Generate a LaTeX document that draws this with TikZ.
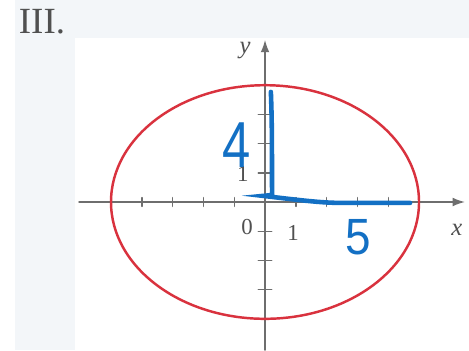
\documentclass[tikz,border=0pt]{standalone}
\usepackage{fontspec}
\setmainfont{Liberation Serif}
\newfontfamily\mano{Liberation Sans}
\usetikzlibrary{arrows.meta,positioning}
\definecolor{rojo}{HTML}{D9323E}
\definecolor{azul}{HTML}{1370C4}
\definecolor{eje}{HTML}{6E6E6E}
\definecolor{texto}{HTML}{505050}
\definecolor{fondo}{HTML}{F3F6F9}
\tikzset{
  etiqueta/.style={texto,font=\fontsize{13}{13}\selectfont,inner sep=0pt},
  marca/.style={eje,line width=0.8pt}
}
\begin{document}
\begin{tikzpicture}[x=0.616cm,y=0.584cm,>=Latex,line cap=round]
    % --- fondo y margenes ---
    \fill[white] (-8.604,-5.068) rectangle (6.623,6.918);
    \fill[fondo] (-8.117,-5.068) rectangle (-6.169,6.918);
    \fill[fondo] (-6.169,5.60) rectangle (6.623,6.918);
    \useasboundingbox (-8.604,-5.068) rectangle (6.623,6.918);
    \node[texto,font=\fontsize{21}{21}\selectfont,inner sep=0pt] (num) at (-7.24,6.16) {III.};
    % --- ejes ---
    \coordinate (O) at (0,0);
    \coordinate (xi) at (-6.04,0);  \coordinate (xf) at (6.49,0);
    \coordinate (yi) at (0,-5.07);  \coordinate (yf) at (0,5.55);
    \draw[eje,line width=0.8pt,-{Latex[length=7pt,width=5pt]}] (xi) -- (xf);
    \draw[eje,line width=0.8pt,-{Latex[length=7pt,width=5pt]}] (yi) -- (yf);
    \foreach \i in {-4,...,-1,1,2,3,4}{
      \draw[marca] (\i,-0.15) -- (\i,0.15);
    }
    \foreach \j in {-3,...,-1,1,2,3}{
      \draw[marca] (-0.22,\j) -- (0.22,\j);
    }
    \node[etiqueta,font=\fontsize{14}{14}\selectfont\itshape] (lx) at (6.23,-0.96) {x};
    \node[etiqueta,font=\fontsize{14}{14}\selectfont\itshape] (ly) at (-0.65,5.2) {y};
    \node[etiqueta] (l0) at (-0.58,-0.86) {0};
    \node[etiqueta] (l1x) at (0.91,-1.06) {1};
    \node[etiqueta] (l1y) at (-0.72,0.97) {1};
    % --- elipse ---
    \draw[rojo,line width=1.4pt] (O) ellipse (5 and 4);
    % --- trazos a mano ---
    \draw[azul,line width=2.6pt] (0.19,3.77) .. controls (0.24,2.5) and (0.22,1.2) .. (0.23,0.24)
          -- (-0.06,0.21) .. controls (1.0,0.08) and (1.8,-0.03) .. (2.44,-0.03) -- (4.71,-0.03);
    \node[azul,font=\mano\fontsize{37}{37}\selectfont,inner sep=0pt,xscale=0.78] (cuatro) at (-0.93,1.95) {4};
    \node[azul,font=\mano\fontsize{29}{29}\selectfont,inner sep=0pt,xscale=0.9] (cinco) at (3.02,-1.2) {5};
\end{tikzpicture}
\end{document}
